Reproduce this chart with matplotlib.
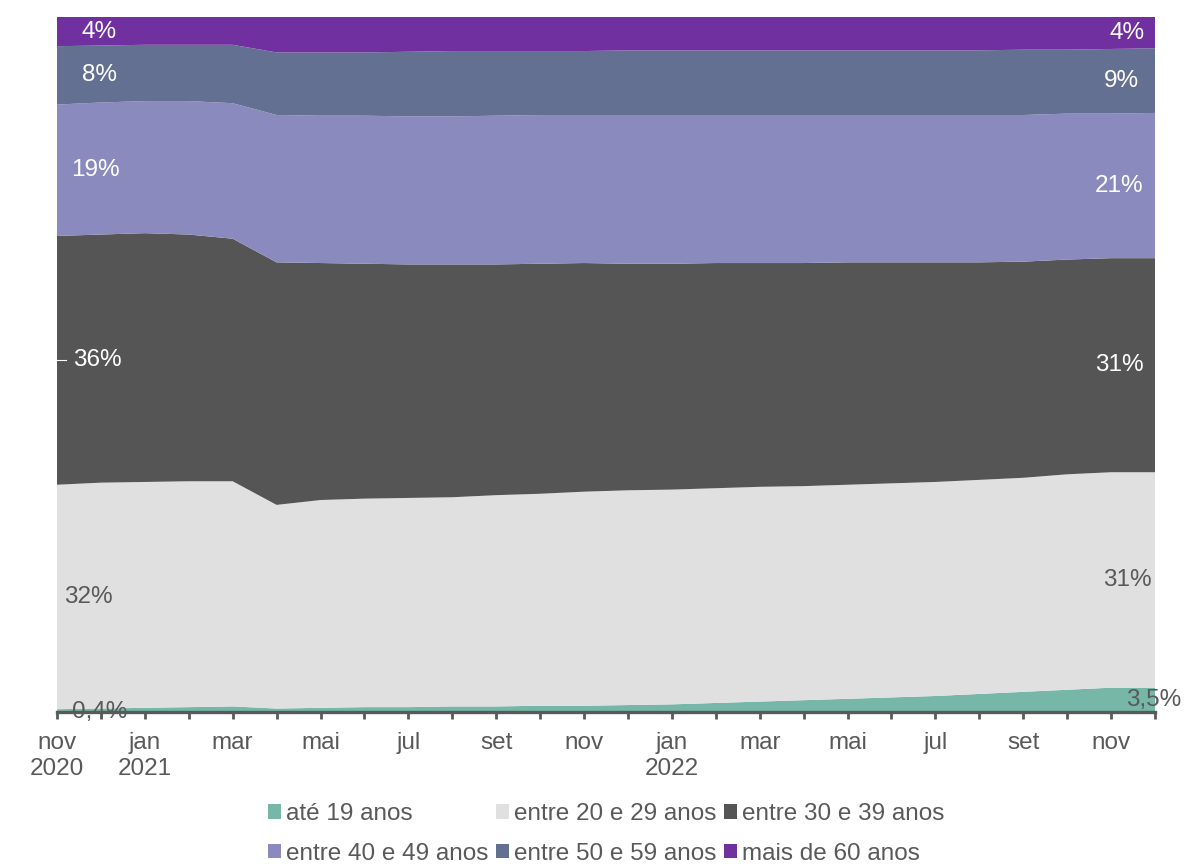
import matplotlib
matplotlib.use("Agg")
import matplotlib.pyplot as plt
import numpy as np

plt.rcParams['font.family'] = ['Liberation Sans', 'DejaVu Sans']

# months nov/2020 .. dez/2022
months = ['nov\n2020', 'dez', 'jan\n2021', 'fev', 'mar', 'abr', 'mai', 'jun', 'jul', 'ago', 'set', 'out',
          'nov', 'dez', 'jan\n2022', 'fev', 'mar', 'abr', 'mai', 'jun', 'jul', 'ago', 'set', 'out', 'nov', 'dez']

series_names = ['até 19 anos', 'entre 20 e 29 anos', 'entre 30 e 39 anos',
                'entre 40 e 49 anos', 'entre 50 e 59 anos', 'mais de 60 anos']

ate_19 = [0.4, 0.5, 0.6, 0.7, 0.8, 0.5, 0.6, 0.7, 0.7, 0.8, 0.8, 0.9, 0.9,
          1.0, 1.1, 1.3, 1.5, 1.7, 1.9, 2.1, 2.3, 2.6, 2.9, 3.2, 3.5, 3.5]
de_20_29 = [32.3, 32.5, 32.5, 32.5, 32.4, 29.3, 29.9, 30.0, 30.1, 30.1, 30.4, 30.5, 30.8,
            30.9, 30.9, 30.9, 30.9, 30.8, 30.8, 30.8, 30.8, 30.8, 30.8, 31.0, 31.0, 31.0]
de_30_39 = [35.8, 35.7, 35.8, 35.5, 34.9, 34.9, 34.1, 33.8, 33.6, 33.5, 33.2, 33.1, 32.9,
            32.6, 32.5, 32.4, 32.2, 32.1, 32.0, 31.8, 31.6, 31.3, 31.1, 30.9, 30.8, 30.8]
de_40_49 = [18.9, 19.0, 19.0, 19.2, 19.5, 21.2, 21.2, 21.3, 21.3, 21.3, 21.4, 21.4, 21.3,
            21.4, 21.4, 21.3, 21.3, 21.3, 21.2, 21.2, 21.2, 21.2, 21.1, 21.0, 20.8, 20.9]
de_50_59 = [8.4, 8.2, 8.1, 8.1, 8.4, 9.0, 9.1, 9.1, 9.3, 9.4, 9.3, 9.2, 9.2,
            9.3, 9.3, 9.3, 9.3, 9.3, 9.3, 9.3, 9.3, 9.3, 9.4, 9.2, 9.3, 9.3]
mais_60 = [4.2, 4.1, 4.0, 4.0, 4.0, 5.1, 5.1, 5.1, 5.0, 4.9, 4.9, 4.9, 4.9,
           4.8, 4.8, 4.8, 4.8, 4.8, 4.8, 4.8, 4.8, 4.8, 4.7, 4.7, 4.6, 4.5]

first_labels = ['0,4%', '32%', '36%', '19%', '8%', '4%']
last_labels = ['3,5%', '31%', '31%', '21%', '9%', '4%']

colors = ['#76B7A8', '#E0E0E0', '#555555', '#8A8ABF', '#647091', '#7030A0']
label_colors = ['#595959', '#595959', 'white', 'white', 'white', 'white']
gray = '#595959'
fs = 17.5

data = np.array([ate_19, de_20_29, de_30_39, de_40_49, de_50_59, mais_60])
data = data / data.sum(axis=0) * 100
x = np.arange(len(months))

fig = plt.figure(figsize=(11.84, 8.66), dpi=100)
ax = fig.add_axes([57 / 1184, 1 - 712 / 866, 1098 / 1184, 695 / 866])

ax.stackplot(x, data, colors=colors, labels=series_names, linewidth=0)

ax.set_xlim(0, len(months) - 1)
ax.set_ylim(0, 100)
ax.set_yticks([])
for s in ['top', 'right', 'left']:
    ax.spines[s].set_visible(False)
ax.spines['bottom'].set_color(gray)
ax.spines['bottom'].set_linewidth(2.4)
ax.spines['bottom'].set_zorder(5)

ax.set_xticks(x)
ax.set_xticklabels([m if i % 2 == 0 else '' for i, m in enumerate(months)])
ax.tick_params(axis='x', direction='out', length=5, width=2, color=gray,
               labelcolor=gray, labelsize=fs, pad=9.5)

# data labels at first and last month
cum = np.cumsum(data, axis=0)
mid = cum - data / 2
left_x = [0.98, 0.71, 0.91, 0.87, 0.96, 0.96]
right_x = [24.98, 24.36, 24.18, 24.18, 24.23, 24.36]
for i in range(len(series_names)):
    y0 = mid[i, 0] if i > 0 else 0.0
    y1 = mid[i, -1]
    ax.text(left_x[i], y0, first_labels[i], color=label_colors[i], fontsize=fs,
            ha='center', va='center', zorder=6)
    ax.text(right_x[i], y1, last_labels[i], color=label_colors[i], fontsize=fs,
            ha='center', va='center', zorder=6)
ax.plot([0, 0.2], [mid[2, 0], mid[2, 0]], color='white', lw=0.8)

h, l = ax.get_legend_handles_labels()
order = [0, 3, 1, 4, 2, 5]
ax.legend([h[k] for k in order], [l[k] for k in order], ncol=3, loc='upper center',
          bbox_to_anchor=(0.5, -0.1033), frameon=False, fontsize=fs, labelcolor=gray,
          handlelength=0.55, handleheight=0.55, handletextpad=0.2, columnspacing=0.3,
          labelspacing=0.72, borderpad=0.3)

fig.savefig('out.png', dpi=100)
